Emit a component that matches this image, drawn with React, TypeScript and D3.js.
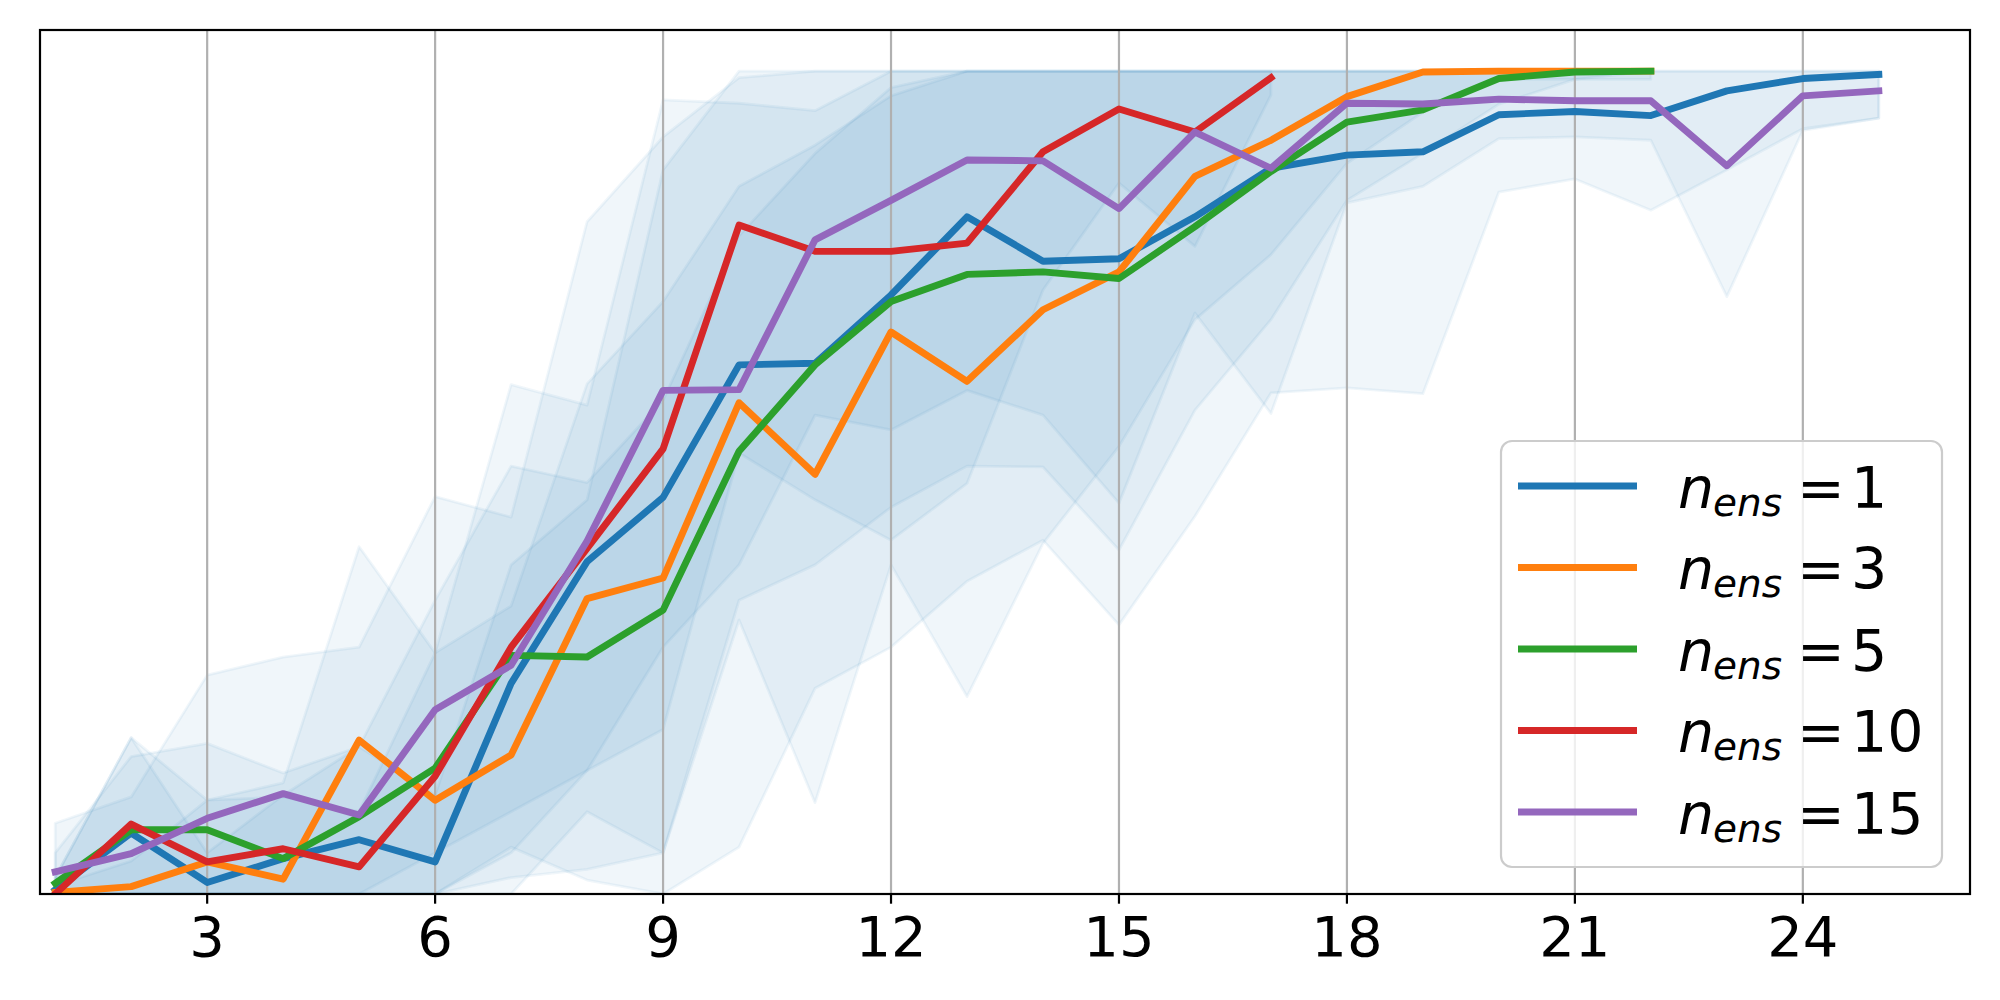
import React from 'react';
import * as d3 from 'd3';

// ---------- data ----------
const X_TICKS = [3, 6, 9, 12, 15, 18, 21, 24];
const ENS_LABELS = ['1', '3', '5', '10', '15'];
const COLORS = ['#1f77b4', '#ff7f0e', '#2ca02c', '#d62728', '#9467bd'];

// n_ens = 1
const meanN1 = [0.005, 0.074, 0.014, 0.043, 0.066, 0.039, 0.256, 0.404, 0.482, 0.643, 0.645, 0.728, 0.823, 0.769, 0.772, 0.823, 0.882, 0.898, 0.902, 0.947, 0.951, 0.946, 0.976, 0.991, 0.996];
const lowN1 = [0, 0, 0, 0, 0, 0, 0.057, 0.017, 0, 0.057, 0.25, 0.3, 0.38, 0.43, 0.327, 0.459, 0.609, 0.615, 0.608, 0.853, 0.869, 0.831, 0.88, 0.93, 0.943];
const highN1 = [0.02, 0.19, 0.05, 0.12, 0.179, 0.12, 0.4, 0.479, 0.88, 1, 1, 1, 1, 1, 1, 1, 1, 1, 1, 1, 1, 1, 1, 1, 1];

// n_ens = 3
const meanN3 = [0.002, 0.009, 0.039, 0.018, 0.187, 0.114, 0.169, 0.359, 0.384, 0.597, 0.51, 0.683, 0.623, 0.71, 0.756, 0.872, 0.916, 0.969, 0.999, 1.0, 1.0, 1.0];
const lowN3 = [0, 0, 0, 0, 0, 0, 0, 0.1, 0.05, 0.333, 0.111, 0.4, 0.24, 0.426, 0.544, 0.698, 0.777, 0.888, 0.95, 0.99, 0.99, 0.99];
const highN3 = [0.01, 0.04, 0.114, 0.135, 0.422, 0.293, 0.35, 0.62, 0.72, 0.86, 0.91, 0.97, 1, 1, 1, 1, 1, 1, 1, 1, 1, 1];

// n_ens = 5
const meanN5 = [0.013, 0.078, 0.078, 0.043, 0.094, 0.153, 0.29, 0.288, 0.345, 0.538, 0.643, 0.72, 0.753, 0.756, 0.748, 0.811, 0.878, 0.938, 0.953, 0.991, 0.999, 1.0];
const lowN5 = [0, 0, 0, 0, 0, 0, 0.02, 0.03, 0.05, 0.357, 0.4, 0.47, 0.52, 0.519, 0.418, 0.588, 0.698, 0.843, 0.9, 0.96, 0.99, 1.0];
const highN5 = [0.05, 0.167, 0.183, 0.147, 0.179, 0.357, 0.52, 0.5, 0.6, 0.8, 0.9, 0.98, 1, 1, 1, 1, 1, 1, 1, 1, 1, 1];

// n_ens = 10
const meanN10 = [0.0, 0.085, 0.039, 0.055, 0.033, 0.143, 0.3, 0.42, 0.541, 0.813, 0.781, 0.781, 0.791, 0.902, 0.954, 0.926, 0.992];
const lowN10 = [0, 0, 0, 0, 0, 0, 0.05, 0.15, 0.2, 0.536, 0.479, 0.43, 0.499, 0.734, 0.864, 0.787, 0.971];
const highN10 = [0.02, 0.19, 0.114, 0.118, 0.1, 0.293, 0.619, 0.594, 0.965, 0.961, 0.952, 1, 1, 1, 1, 1, 1];

// n_ens = 15
const meanN15 = [0.027, 0.049, 0.092, 0.122, 0.096, 0.224, 0.278, 0.429, 0.612, 0.613, 0.795, 0.843, 0.892, 0.891, 0.833, 0.926, 0.882, 0.961, 0.96, 0.966, 0.964, 0.964, 0.885, 0.97, 0.976];
const lowN15 = [0, 0, 0, 0, 0, 0.05, 0.1, 0.15, 0.3, 0.4, 0.582, 0.564, 0.612, 0.582, 0.475, 0.706, 0.584, 0.84, 0.86, 0.918, 0.92, 0.916, 0.726, 0.928, 0.943];
const highN15 = [0.086, 0.118, 0.266, 0.288, 0.3, 0.483, 0.458, 0.817, 0.92, 0.992, 1, 1, 1, 1, 1, 1, 1, 1, 1, 1, 1, 1, 1, 1, 1];

const MEANS = [meanN1, meanN3, meanN5, meanN10, meanN15];
const LOWS = [lowN1, lowN3, lowN5, lowN10, lowN15];
const HIGHS = [highN1, highN3, highN5, highN10, highN15];

// ---------- layout ----------
const W = 2000;
const H = 1000;
const L = 40, R = 1970, T = 30, B = 894;
const FONT = 'DejaVu Sans, Liberation Sans, sans-serif';

export default function App() {
  const x = d3.scaleLinear().domain([0.8, 26.2]).range([L, R]);
  const y = d3.scaleLinear().domain([0, 1.05]).range([B, T]);

  const series = MEANS.map((m, i) => ({
    label: ENS_LABELS[i],
    color: COLORS[i],
    pts: m.map((v, j) => ({ n: j + 1, v, lo: LOWS[i][j], hi: HIGHS[i][j] })),
  }));

  const line = d3
    .line<{ n: number; v: number }>()
    .x((d) => x(d.n))
    .y((d) => y(d.v));
  const area = d3
    .area<{ n: number; lo: number; hi: number }>()
    .x((d) => x(d.n))
    .y0((d) => y(d.lo))
    .y1((d) => y(d.hi));

  const lw = 6.9;
  const legX = 1501, legY = 441, legW = 441, legH = 426;
  const rowY0 = 486, rowStep = 81.5;
  const bandAlpha = 0.065;
  const legFont = 57;

  return (
    <svg
      width={W}
      height={H}
      viewBox={`0 0 ${W} ${H}`}
      style={{ position: 'absolute', left: 0, top: 0, background: '#fff' }}
    >
      <defs>
        <clipPath id="plot">
          <rect x={L} y={T} width={R - L} height={B - T} />
        </clipPath>
      </defs>
      <rect x={0} y={0} width={W} height={H} fill="#fff" />

      <g clipPath="url(#plot)">
        {series.map((s, i) => (
          <path
            key={'band' + i}
            d={area(s.pts) || ''}
            fill="#1f77b4"
            fillOpacity={bandAlpha}
            stroke="#1f77b4"
            strokeOpacity={bandAlpha}
            strokeWidth={2.8}
            strokeLinejoin="round"
          />
        ))}
        {X_TICKS.map((t) => (
          <line key={'g' + t} x1={x(t)} x2={x(t)} y1={T} y2={B} stroke="#b0b0b0" strokeWidth={2.2} />
        ))}
        {series.map((s, i) => (
          <path
            key={'line' + i}
            d={line(s.pts) || ''}
            fill="none"
            stroke={s.color}
            strokeWidth={lw}
            strokeLinejoin="round"
            strokeLinecap="square"
          />
        ))}
      </g>

      {/* frame */}
      <rect x={L} y={T} width={R - L} height={B - T} fill="none" stroke="#000" strokeWidth={2.2} />

      {/* x ticks */}
      {X_TICKS.map((t) => (
        <g key={'t' + t}>
          <line x1={x(t)} x2={x(t)} y1={B} y2={B + 9.7} stroke="#000" strokeWidth={2.2} />
          <text
            x={x(t)}
            y={B + 62}
            textAnchor="middle"
            fontFamily={FONT}
            fontSize={56}
            fill="#000"
          >
            {t}
          </text>
        </g>
      ))}

      {/* legend */}
      <rect
        x={legX}
        y={legY}
        width={legW}
        height={legH}
        rx={11}
        ry={11}
        fill="#fff"
        fillOpacity={0.8}
        stroke="#cccccc"
        strokeWidth={2.2}
      />
      {series.map((s, i) => {
        const ly = rowY0 + i * rowStep;
        return (
          <g key={'leg' + i}>
            <line x1={1518} x2={1637} y1={ly} y2={ly} stroke={s.color} strokeWidth={lw} />
            <text fontFamily={FONT} fontSize={legFont} fill="#000" y={ly + 21.5}>
              <tspan x={1678} fontStyle="italic">n</tspan>
              <tspan x={1713} dy={8} fontStyle="italic" fontSize={39}>ens</tspan>
              <tspan x={1797} dy={-8}>=</tspan>
              <tspan x={1851}>{s.label}</tspan>
            </text>
          </g>
        );
      })}
    </svg>
  );
}
